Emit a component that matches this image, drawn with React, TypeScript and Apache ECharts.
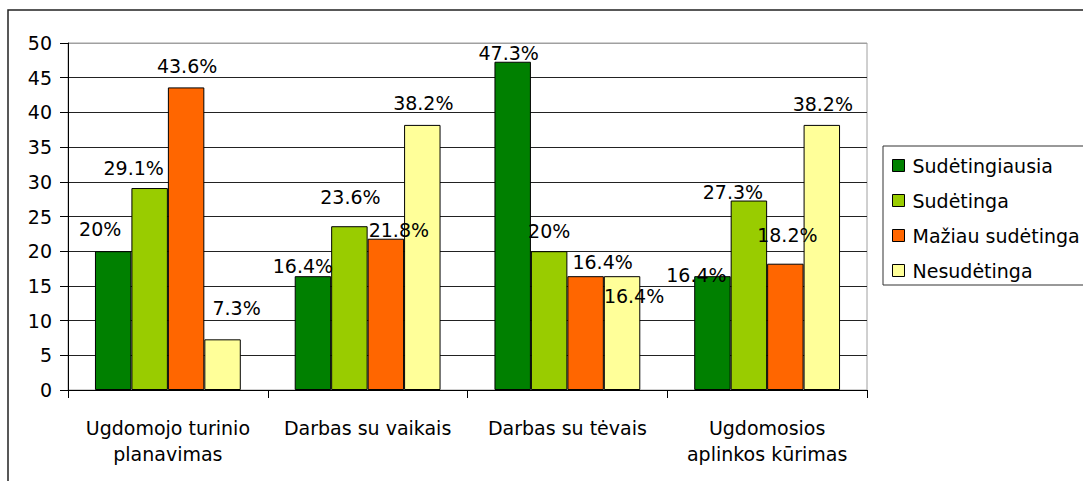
import React, { useEffect, useRef } from "react";
import * as echarts from "echarts";

const CATEGORIES = [
  "Ugdomojo turinio\nplanavimas",
  "Darbas su vaikais",
  "Darbas su tėvais",
  "Ugdomosios\naplinkos kūrimas",
];
const SERIES_NAMES = ["Sudėtingiausia", "Sudėtinga", "Mažiau sudėtinga", "Nesudėtinga"];
const SUDETINGIAUSIA = [20, 16.4, 47.3, 16.4];
const SUDETINGA = [29.1, 23.6, 20, 27.3];
const MAZIAU = [43.6, 21.8, 16.4, 18.2];
const NESUDETINGA = [7.3, 38.2, 16.4, 38.2];
const Y_MIN = 0;
const Y_MAX = 50;
const Y_STEP = 5;

const COLORS = ["#008000", "#99CC00", "#FF6600", "#FFFF99"];
// label nudges (dx, dy) reproducing the reference's hand-placed labels
const LABEL_OFFSETS = [
  [[-13, -12.5], [-10, -0.5], [-4, 0.5], [-16, 8.5]],
  [[-16, -10.5], [1, -19.5], [0, -10.5], [-16, 1]],
  [[1, -11.5], [13, 0.5], [17, -4.5], [2, -19.5]],
  [[14, -21.5], [1, -12.5], [12, 29.5], [1, -11.5]],
];

const FONT = "DejaVu Sans";

export default function App() {
  const ref = useRef<HTMLDivElement>(null);
  useEffect(() => {
    if (!ref.current) return;
    const chart = echarts.init(ref.current, null, { renderer: "svg" });
    const values = [SUDETINGIAUSIA, SUDETINGA, MAZIAU, NESUDETINGA];
    const splitColors = [] as string[];
    for (let i = 0; i <= (Y_MAX - Y_MIN) / Y_STEP; i++) splitColors.push("#222222");
    splitColors[splitColors.length - 1] = "#a0a0a0";
    chart.setOption({
      animation: false,
      backgroundColor: "#ffffff",
      textStyle: { fontFamily: FONT },
      graphic: [
        {
          type: "rect",
          shape: { x: 8, y: 10, width: 1200, height: 600 },
          style: { fill: "none", stroke: "#222", lineWidth: 1.5 },
          silent: true,
          z: 0,
        },
      ],
      grid: {
        left: 68,
        top: 43,
        right: 216,
        bottom: 91,
        show: true,
        borderColor: "#a0a0a0",
        borderWidth: 1,
        backgroundColor: "transparent",
      },
      legend: {
        orient: "vertical",
        left: 883,
        top: 146,
        padding: [10, 20, 5, 9],
        itemGap: 16,
        itemWidth: 12,
        itemHeight: 12,
        icon: "rect",
        borderColor: "#333",
        borderWidth: 1,
        backgroundColor: "#fff",
        textStyle: {
          fontFamily: FONT,
          fontSize: 19,
          lineHeight: 19,
          color: "#000",
          padding: [0, 0, 0, 3],
        },
        itemStyle: { borderColor: "#000", borderWidth: 1 },
        data: SERIES_NAMES,
      },
      xAxis: {
        type: "category",
        data: CATEGORIES,
        axisLine: { lineStyle: { color: "#000", width: 1 } },
        axisTick: { show: true, length: 8, lineStyle: { color: "#000" } },
        axisLabel: {
          interval: 0,
          margin: 25,
          fontFamily: FONT,
          fontSize: 19,
          lineHeight: 26,
          color: "#000",
        },
      },
      yAxis: {
        type: "value",
        min: Y_MIN,
        max: Y_MAX,
        interval: Y_STEP,
        axisLine: { show: true, lineStyle: { color: "#000", width: 1 } },
        axisTick: { show: true, length: 8, lineStyle: { color: "#000" } },
        axisLabel: {
          margin: 16,
          fontFamily: FONT,
          fontSize: 19,
          color: "#000",
        },
        splitLine: { show: true, lineStyle: { color: splitColors, width: 1 } },
      },
      series: SERIES_NAMES.map((name, s) => ({
        name,
        type: "bar",
        barGap: "0%",
        barCategoryGap: "27%",
        itemStyle: { color: COLORS[s], borderColor: "#000", borderWidth: 1 },
        label: {
          show: true,
          position: "top",
          distance: 0,
          fontFamily: FONT,
          fontSize: 19,
          lineHeight: 19,
          color: "#000",
          formatter: (p: any) => `${p.value}%`,
        },
        data: values[s].map((v, i) => ({
          value: v,
          label: { offset: LABEL_OFFSETS[s][i] },
        })),
      })),
    });
    return () => chart.dispose();
  }, []);
  return (
    <div
      ref={ref}
      style={{ position: "fixed", left: 0, top: 0, width: 1083, height: 481 }}
    />
  );
}
